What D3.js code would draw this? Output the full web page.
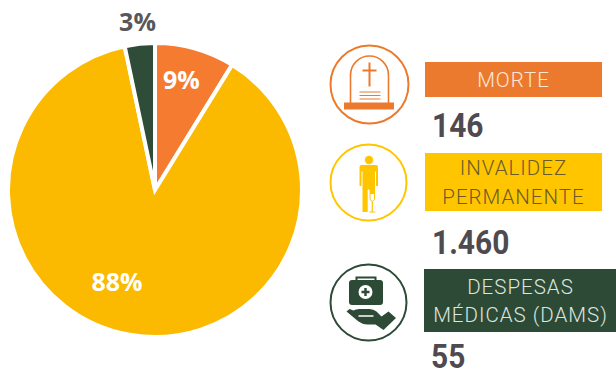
<!DOCTYPE html>
<html>
<head>
<meta charset="utf-8">
<script src="https://cdn.jsdelivr.net/npm/d3@7.9.0/dist/d3.min.js"></script>
<style>
  html, body { margin: 0; padding: 0; background: #fff; }
  svg { display: block; }
</style>
</head>
<body>
<div id="chart"></div>
<script>
const categories = ['MORTE', 'INVALIDEZ PERMANENTE', 'DESPESAS MÉDICAS (DAMS)'];
const values = [146, 1460, 55];
const valueLabels = ['146', '1.460', '55'];
const shareLabels = ['9%', '88%', '3%'];
const nameLines = [['MORTE'], ['INVALIDEZ', 'PERMANENTE'], ['DESPESAS', 'MÉDICAS (DAMS)']];

const width = 616;
const height = 369;

const pieColors = ['#f47b30', '#fbba00', '#2e4c38'];
const barColors = ['#ec7a2e', '#ffc600', '#2d4a36'];
const nameColors = ['#fde8d8', '#6b5a2e', '#dfe5df'];

const svg = d3.select('#chart')
    .append('svg')
    .attr('width', width)
    .attr('height', height)
    .attr('viewBox', `0 0 ${width} ${height}`);

// Pie
const cx = 155, cy = 190, radius = 147;
const color = d3.scaleOrdinal().domain(categories).range(pieColors);
const pie = d3.pie().sort(null).value((d, i) => values[i]);
const arc = d3.arc().innerRadius(0).outerRadius(radius);
const arcs = pie(categories);

const pieG = svg.append('g').attr('transform', `translate(${cx},${cy})`);

pieG.selectAll('path')
    .data(arcs)
    .join('path')
    .attr('d', arc)
    .attr('fill', d => color(d.data))
    .attr('stroke', '#fff')
    .attr('stroke-width', 4)
    .attr('stroke-linejoin', 'miter');

// label spots, relative to the pie centre
const shareSpots = [[26.5, -110], [-38, 92], [-17.5, -168]];
const shareFill = ['#fff', '#fff', '#58585a'];

pieG.selectAll('text')
    .data(shareLabels)
    .join('text')
    .attr('x', (d, i) => shareSpots[i][0])
    .attr('y', (d, i) => shareSpots[i][1])
    .attr('dy', '0.36em')
    .attr('text-anchor', 'middle')
    .attr('font-family', '"Open Sans", sans-serif')
    .attr('font-weight', 700)
    .attr('font-size', 25)
    .attr('fill', (d, i) => shareFill[i])
    .text(d => d);

// Legend rows
const rows = [
    { ring: [369.5, 84.5, 39], bar: [425, 62, 177, 35], num: [432, 137] },
    { ring: [368.5, 182.5, 38], bar: [425, 153, 177, 58], num: [432, 254] },
    { ring: [368.5, 302.5, 38], bar: [424, 269, 192, 63], num: [431, 368] },
];

const rowG = svg.selectAll('g.row')
    .data(rows)
    .join('g')
    .attr('class', 'row');

rowG.append('circle')
    .attr('cx', d => d.ring[0])
    .attr('cy', d => d.ring[1])
    .attr('r', d => d.ring[2])
    .attr('fill', 'none')
    .attr('stroke', (d, i) => barColors[i])
    .attr('stroke-width', 2);

rowG.append('rect')
    .attr('x', d => d.bar[0])
    .attr('y', d => d.bar[1])
    .attr('width', d => d.bar[2])
    .attr('height', d => d.bar[3])
    .attr('fill', (d, i) => barColors[i]);

rowG.each(function (d, i) {
    const lines = nameLines[i];
    const lineH = 28.5;
    const midY = d.bar[1] + d.bar[3] / 2;
    lines.forEach((line, k) => {
        d3.select(this).append('text')
            .attr('x', d.bar[0] + d.bar[2] / 2 + (i === 2 ? 0.5 : 0))
            .attr('y', midY + (k - (lines.length - 1) / 2) * lineH)
            .attr('dy', '0.36em')
            .attr('text-anchor', 'middle')
            .attr('font-family', 'Roboto, sans-serif')
            .attr('font-weight', 300)
            .attr('font-size', 20.5)
            .attr('letter-spacing', 1)
            .attr('fill', nameColors[i])
            .text(line);
    });
});

// the numbers are a narrow face in the original, so squeeze Roboto sideways
rowG.append('text')
    .attr('transform', d => `translate(${d.num[0]},${d.num[1]}) scale(0.88,1)`)
    .attr('font-family', 'Roboto, sans-serif')
    .attr('font-weight', 700)
    .attr('font-size', 34)
    .attr('fill', '#4f4a50')
    .text((d, i) => valueLabels[i]);

// Icons
const orange = barColors[0], yellow = barColors[1], green = barColors[2];

const tomb = svg.append('g').attr('transform', 'translate(369.5,84.5)');
tomb.append('path')
    .attr('d', 'M-19,21 V-9.5 A19,19 0 0 1 19,-9.5 V21')
    .attr('fill', 'none')
    .attr('stroke', orange)
    .attr('stroke-width', 1.6);
tomb.append('rect').attr('x', -25.5).attr('y', 18).attr('width', 50).attr('height', 7).attr('fill', orange);
tomb.append('path')
    .attr('d', 'M0,-22 V2 M-7,-14 H7')
    .attr('stroke', orange)
    .attr('stroke-width', 2)
    .attr('fill', 'none');
tomb.append('path')
    .attr('d', 'M-10,7.5 H11 M-10,11 H11 M-10,14.5 H11')
    .attr('stroke', orange)
    .attr('stroke-width', 1)
    .attr('fill', 'none');

const person = svg.append('g').attr('transform', 'translate(368.5,182.5)');
person.append('circle').attr('cx', 0.5).attr('cy', -22.5).attr('r', 4.2).attr('fill', yellow);
person.append('path')
    .attr('d', 'M-9,-15.5 Q-9,-17.5 -7,-17.5 H7.5 Q9.5,-17.5 9.5,-15.5 V3.5 H7.5 V-11 H6.5 V7 H-6 V-11 H-7 V3.5 H-9 Z')
    .attr('fill', yellow);
person.append('path')
    .attr('d', 'M-6,6 H-0.8 V29.5 H-6 Z')
    .attr('fill', yellow);
person.append('path')
    .attr('d', 'M1,6 H6.5 V11 H1 Z')
    .attr('fill', yellow);
person.append('path')
    .attr('d', 'M1.5,11 H6 V17 L3.8,19 L1.5,17 Z')
    .attr('fill', 'none')
    .attr('stroke', yellow)
    .attr('stroke-width', 1);
person.append('path')
    .attr('d', 'M3.8,19 V29 M1,29.5 H6.8')
    .attr('stroke', yellow)
    .attr('stroke-width', 1.2)
    .attr('fill', 'none');

const kit = svg.append('g').attr('transform', 'translate(368.5,302.5)');
kit.append('path')
    .attr('d', 'M-12,-21 V-25 H7 V-21')
    .attr('fill', 'none')
    .attr('stroke', green)
    .attr('stroke-width', 2);
kit.append('rect').attr('x', -19.5).attr('y', -22.5).attr('width', 34).attr('height', 25).attr('rx', 3).attr('fill', green);
kit.append('circle').attr('cx', -3).attr('cy', -10.5).attr('r', 7).attr('fill', '#fff');
kit.append('path')
    .attr('d', 'M-3,-14.5 V-6.5 M-7,-10.5 H1')
    .attr('stroke', green)
    .attr('stroke-width', 2.4)
    .attr('fill', 'none');
kit.append('path')
    .attr('d', 'M-22,9 L-10,19 Q-6,22 -1,22 H7 L15,27.5 L27.5,15.5 L20,9 L13,14 L8,9 Q5,6.5 1,6.5 H-9 Q-13,6.5 -15,8 L-19,6.5 Z')
    .attr('fill', green);
kit.append('path')
    .attr('d', 'M-10,13.5 H5')
    .attr('stroke', '#fff')
    .attr('stroke-width', 1.5)
    .attr('fill', 'none');
</script>
</body>
</html>
